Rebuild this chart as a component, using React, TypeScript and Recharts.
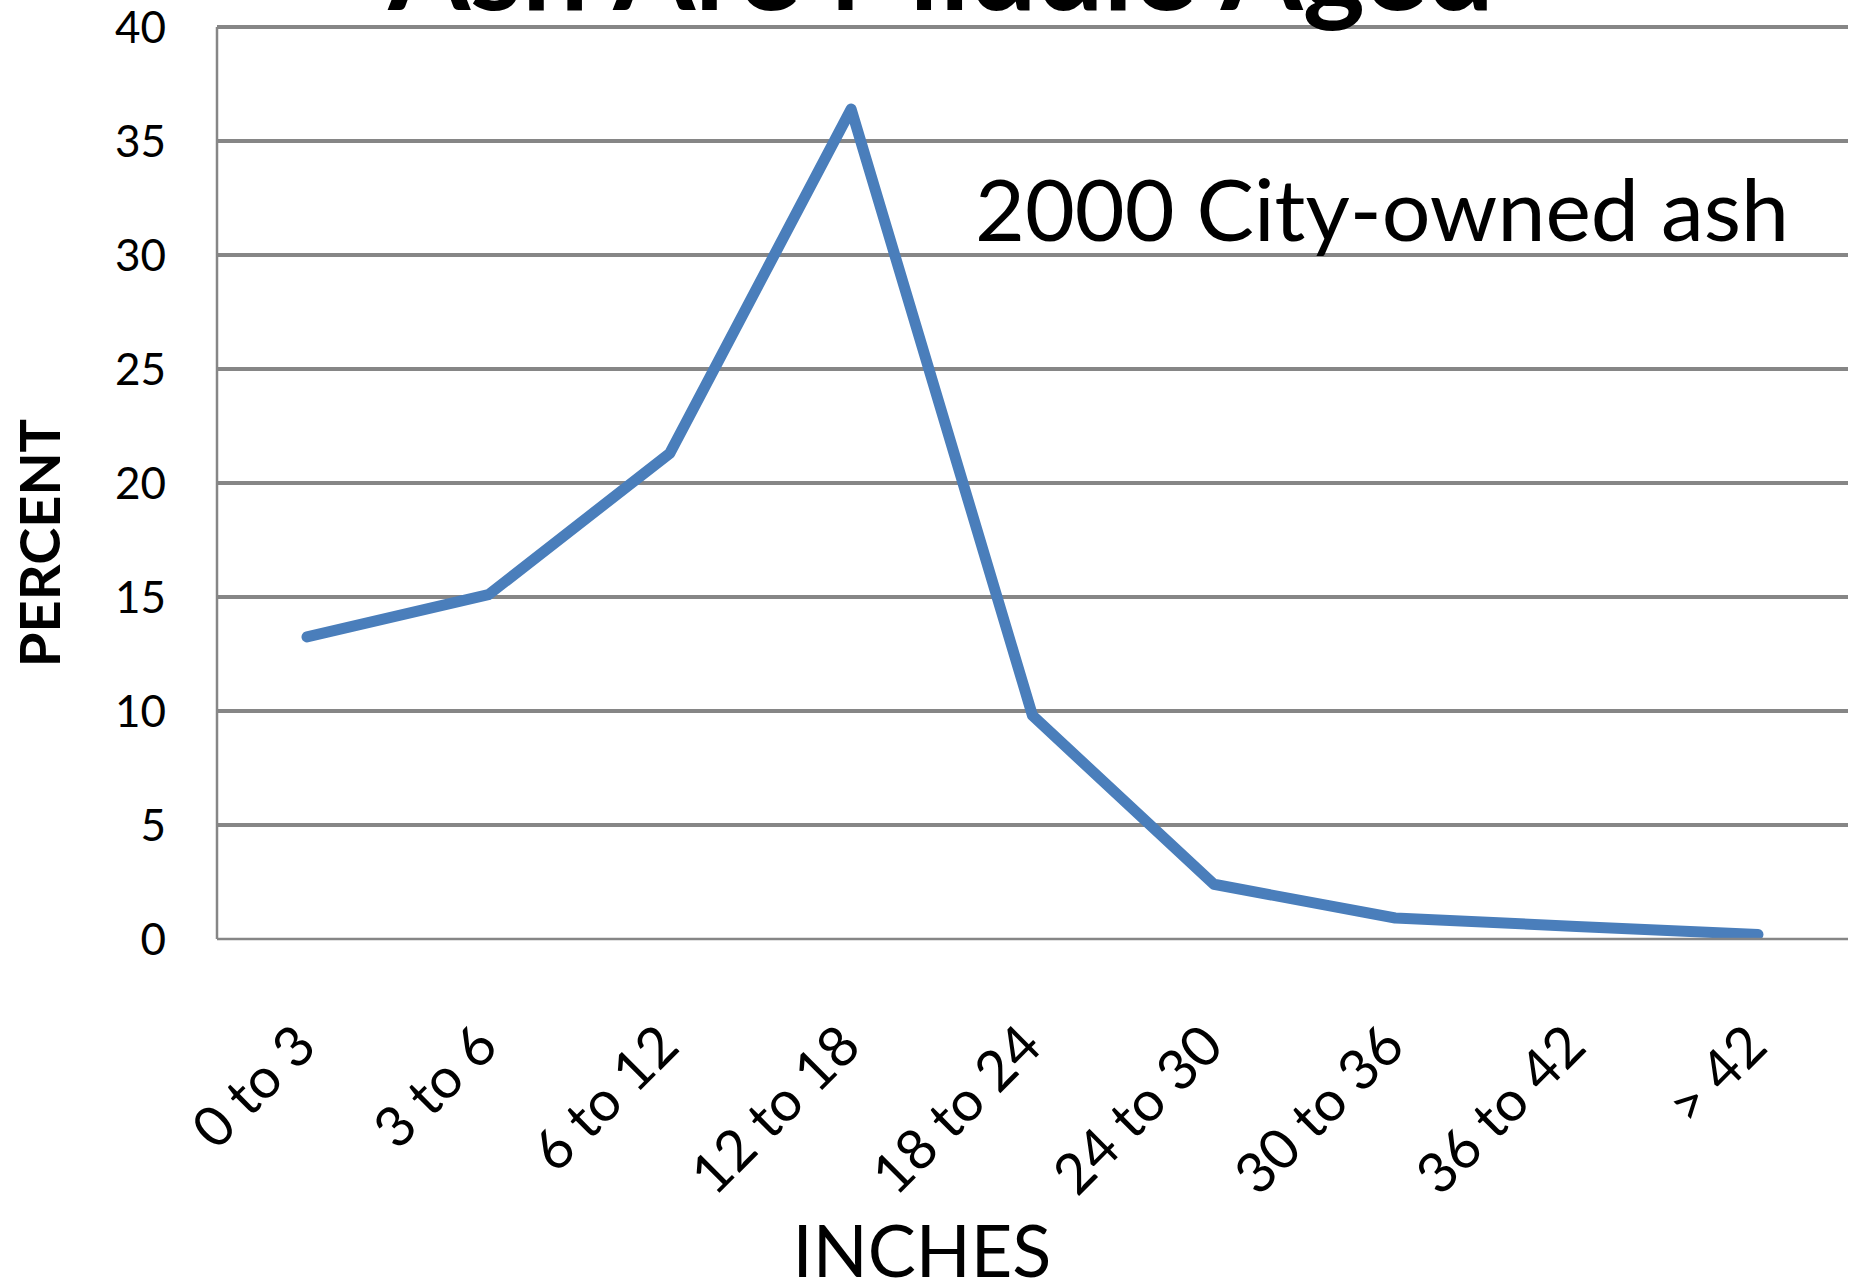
import { LineChart, Line, XAxis, YAxis, CartesianGrid } from "recharts";

const ranges = [
  "0 to 3",
  "3 to 6",
  "6 to 12",
  "12 to 18",
  "18 to 24",
  "24 to 30",
  "30 to 36",
  "36 to 42",
  "> 42",
];
const percents = [13.25, 15.1, 21.3, 36.4, 9.8, 2.4, 0.92, 0.55, 0.2];
const yTicks = [0, 5, 10, 15, 20, 25, 30, 35, 40];
const gridValues = [5, 10, 15, 20, 25, 30, 35, 40];

const data = ranges.map((range, i) => ({ range, percent: percents[i] }));

const FONT = "Lato, 'Open Sans', sans-serif";
const GRID = "#868686";

function RangeTick(props: any) {
  const { x, y, payload } = props;
  const ex = x + 12;
  const ey = y + 110;
  return (
    <text
      x={ex}
      y={ey}
      textAnchor="end"
      fill="#000"
      fontSize={56}
      fontFamily={FONT}
      transform={`rotate(-45, ${ex}, ${ey})`}
    >
      {payload.value}
    </text>
  );
}

export default function App() {
  return (
    <div style={{ position: "absolute", top: 0, left: 0, background: "#fff" }}>
      <LineChart
        width={1860}
        height={1283}
        data={data}
        margin={{ top: 27, right: 12, bottom: 0, left: 0 }}
      >
        <CartesianGrid
          vertical={false}
          horizontalValues={gridValues}
          stroke={GRID}
          strokeWidth={4}
        />
        <XAxis
          dataKey="range"
          height={344}
          interval={0}
          padding={{ left: 90, right: 90 }}
          tickLine={false}
          tickSize={0}
          tickMargin={0}
          axisLine={{ stroke: GRID, strokeWidth: 2.5 }}
          tick={<RangeTick />}
        />
        <YAxis
          width={217}
          domain={[0, 40]}
          ticks={yTicks}
          interval={0}
          tickLine={false}
          tickSize={0}
          tickMargin={51}
          axisLine={{ stroke: GRID, strokeWidth: 2.5 }}
          tick={{ fill: "#000", fontSize: 44, fontFamily: FONT }}
        />
        <Line
          type="linear"
          dataKey="percent"
          stroke="#4a7ebb"
          strokeWidth={11}
          strokeLinejoin="round"
          strokeLinecap="round"
          dot={false}
          activeDot={false}
          isAnimationActive={false}
        />
        <text
          x={941}
          y={10}
          textAnchor="middle"
          fontSize={118}
          fontWeight="bold"
          fontFamily={FONT}
          fill="#000"
        >
          Ash Are Middle Aged
        </text>
        <text
          x={975}
          y={241}
          fontSize={86}
          fontFamily={FONT}
          fill="#000"
        >
          2000 City-owned ash
        </text>
        <text
          x={922}
          y={1277}
          textAnchor="middle"
          fontSize={72}
          fontFamily={FONT}
          fill="#000"
        >
          INCHES
        </text>
        <text
          x={60}
          y={543}
          textAnchor="middle"
          fontSize={56}
          fontWeight="bold"
          fontFamily={FONT}
          fill="#000"
          transform="rotate(-90, 60, 543)"
        >
          PERCENT
        </text>
      </LineChart>
    </div>
  );
}
